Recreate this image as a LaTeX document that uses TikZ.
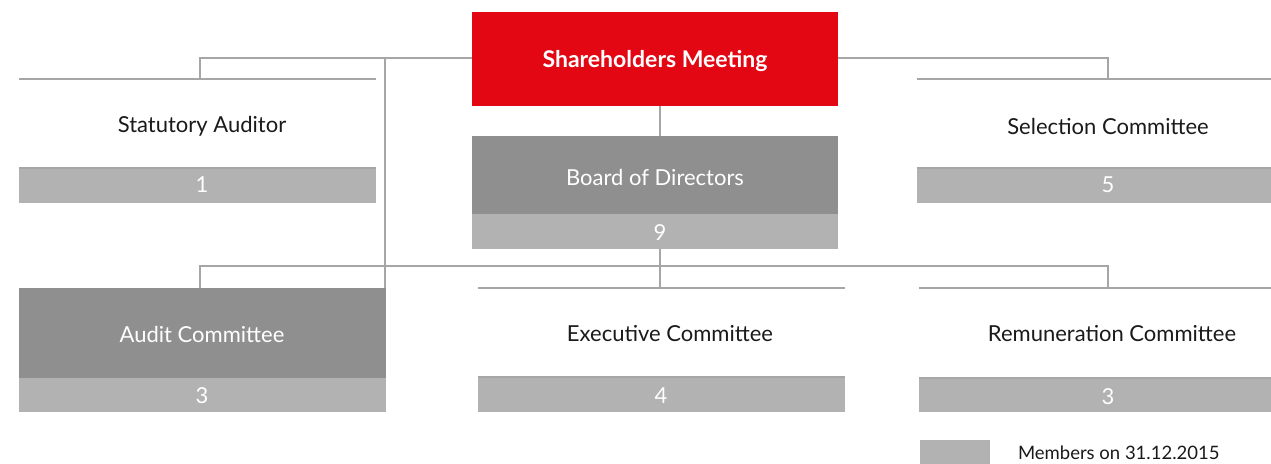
\documentclass[tikz,border=0pt]{standalone}
\usepackage{fontspec}
\setmainfont{Lato}
\definecolor{smred}{HTML}{E30613}
\definecolor{darkbox}{HTML}{8E8F8E}
\definecolor{lightbar}{HTML}{B2B2B2}
\definecolor{linegray}{HTML}{A6A6A6}
\definecolor{txt}{HTML}{1A1A1A}
\begin{document}
\begin{tikzpicture}[x=1pt,y=-1pt,
  conn/.style={draw=linegray,line width=1.5pt},
  boxbase/.style={rectangle,inner sep=0pt,outer sep=0pt,font=\fontsize{22}{26}\selectfont},
  whitebox/.style={boxbase,text=txt},
  darkfill/.style={boxbase,fill=darkbox,text=white},
  redbox/.style={boxbase,fill=smred,text=white,font=\bfseries\fontsize{23}{27}\selectfont},
  numbar/.style={boxbase,fill=lightbar,text=white},
  topline/.style={draw=linegray,line width=1.5pt}
]
\useasboundingbox (0,0) rectangle (1271,463);

% Shareholders Meeting
\node[redbox,minimum width=366pt,minimum height=94pt] (sm) at (655,59) {};
\node[redbox,fill=none] at (655,61) {Shareholders Meeting};

% Board of Directors
\node[darkfill,minimum width=366pt,minimum height=78pt] (bod) at (655,175) {};
\node[boxbase,text=white] at (655,177) {Board of Directors};
\node[numbar,minimum width=366pt,minimum height=35pt] (bodn) at (655,231.5) {};
\node[boxbase,text=white] at (660,233) {9};

% Statutory Auditor
\node[whitebox,minimum width=357pt,minimum height=89pt] (sa) at (197.5,123.5) {};
\node[whitebox] at (202,126) {Statutory Auditor};
\node[numbar,minimum width=357pt,minimum height=35pt] (san) at (197.5,185.5) {};
\node[boxbase,text=white] at (202,185) {1};
\draw[topline] (sa.north west) -- (sa.north east);
\draw[topline] (san.north west) -- (san.north east);

% Selection Committee
\node[whitebox,minimum width=354pt,minimum height=89pt] (sc) at (1094,123.5) {};
\node[whitebox] at (1108,126) {Selection Committee};
\node[numbar,minimum width=354pt,minimum height=35pt] (scn) at (1094,185.5) {};
\node[boxbase,text=white] at (1108,185) {5};
\draw[topline] (sc.north west) -- (sc.north east);
\draw[topline] (scn.north west) -- (scn.north east);

% Audit Committee
\node[darkfill,minimum width=367pt,minimum height=90pt] (ac) at (202.5,333) {};
\node[boxbase,text=white] at (202,334) {Audit Committee};
\node[numbar,minimum width=367pt,minimum height=34pt] (acn) at (202.5,395) {};
\node[boxbase,text=white] at (202,396) {3};

% Executive Committee
\node[whitebox,minimum width=367pt,minimum height=89.5pt] (ec) at (661.5,332.5) {};
\node[whitebox] at (670,334) {Executive Committee};
\node[numbar,minimum width=367pt,minimum height=35pt] (ecn) at (661.5,394.5) {};
\node[boxbase,text=white] at (661,396) {4};
\draw[topline] (ec.north west) -- (ec.north east);
\draw[topline] (ecn.north west) -- (ecn.north east);

% Remuneration Committee
\node[whitebox,minimum width=352pt,minimum height=90pt] (rc) at (1095,333) {};
\node[whitebox] at (1112,334) {Remuneration Committee};
\node[numbar,minimum width=352pt,minimum height=34pt] (rcn) at (1095,395) {};
\node[boxbase,text=white] at (1108,397) {3};
\draw[topline] (rc.north west) -- (rc.north east);
\draw[topline] (rcn.north west) -- (rcn.north east);

% Legend
\node[numbar,minimum width=70pt,minimum height=24pt] (leg) at (955,452) {};
\node[boxbase,anchor=west,text=txt,font=\fontsize{18.5}{21}\selectfont] (legt) at (1018,453) {Members on\ 31.12.2015};

% Connectors
\coordinate (jl) at (385,58);
\draw[conn] (sm.west |- jl) -- (200,58) -- (200,0 |- sa.north);
\draw[conn] (sm.east |- jl) -- (1108,58) -- (1108,0 |- sc.north);
\draw[conn] (jl) -- (385,0 |- ac.north);
\draw[conn] (sm.south -| 660,0) -- (660,0 |- bod.north);
\draw[conn] (bodn.south -| 660,0) -- (660,0 |- ec.north);
\draw[conn] (200,0 |- ac.north) -- (200,266) -- (1108,266) -- (1108,0 |- rc.north);
\end{tikzpicture}
\end{document}
